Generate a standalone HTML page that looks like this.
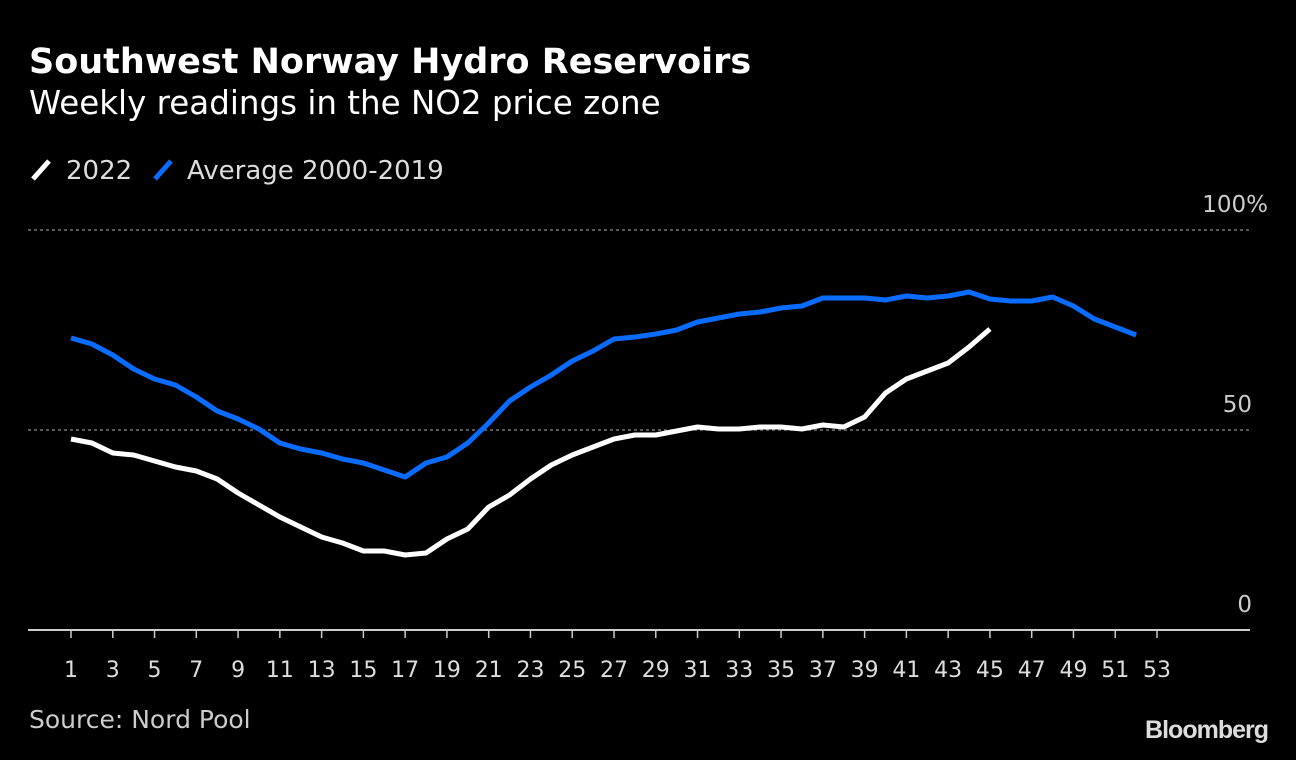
<!DOCTYPE html>
<html><head><meta charset="utf-8"><style>
html,body{margin:0;padding:0;background:#000;width:1296px;height:760px;overflow:hidden;font-family:"DejaVu Sans","Liberation Sans",sans-serif;color:#fff}
.t{position:absolute;left:29px;top:42px;font-size:35px;font-weight:bold}
.s{position:absolute;left:29px;top:84px;font-size:32.5px;color:#fff}
.src{position:absolute;left:29px;top:705px;font-size:25px;color:#ccc}
.bb{position:absolute;right:28px;top:716px;font-size:25px;font-weight:bold;color:#ddd;letter-spacing:-1px;font-family:"Liberation Sans",sans-serif}
svg{position:absolute;left:0;top:0;font-family:"DejaVu Sans","Liberation Sans",sans-serif}
</style></head><body>
<div class="t">Southwest Norway Hydro Reservoirs</div>
<div class="s">Weekly readings in the NO2 price zone</div>
<svg id="c" width="1296" height="760">
<g>
<line x1="33" y1="179" x2="49" y2="161" stroke="#fff" stroke-width="5"/>
<text x="66" y="179" font-size="26" fill="#ddd">2022</text>
<line x1="155" y1="179" x2="171" y2="161" stroke="#0a6cff" stroke-width="5"/>
<text x="187" y="179" font-size="26" fill="#ddd">Average 2000-2019</text>
</g>
</svg>
<div class="src">Source: Nord Pool</div>
<div class="bb">Bloomberg</div>
<script>
const weekTicks=[1,3,5,7,9,11,13,15,17,19,21,23,25,27,29,31,33,35,37,39,41,43,45,47,49,51,53];
const yTicks=[0,50,100];
const avgValues=[73,71.5,68.75,65.25,62.75,61.25,58.25,54.75,52.75,50.25,46.75,45.25,44.25,42.75,41.75,40,38.25,41.75,43.25,46.75,51.75,57.25,60.75,63.75,67.25,69.75,72.75,73.25,74,75,77,78,79,79.5,80.5,81,83,83,83,82.5,83.5,83,83.5,84.5,82.75,82.25,82.25,83.25,81,77.75,75.75,73.75];
const values2022=[47.75,46.75,44.25,43.75,42.25,40.75,39.75,37.75,34.25,31.25,28.25,25.75,23.25,21.75,19.75,19.75,18.75,19.25,22.75,25.25,30.75,33.75,37.75,41.25,43.75,45.75,47.75,48.75,48.75,49.75,50.75,50.25,50.25,50.75,50.75,50.25,51.25,50.75,53.25,59.25,62.75,64.75,66.75,70.75,75.25];
const NS="http://www.w3.org/2000/svg";
const svg=document.getElementById('c');
const x=w=>71+(w-1)*(1157-71)/52;
const y=v=>630-v*4;
function mk(t,a){const e=document.createElementNS(NS,t);for(const k in a)e.setAttribute(k,a[k]);svg.appendChild(e);return e;}
yTicks.forEach(v=>{
  if(v>0){const l=mk('line',{x1:28,x2:1250,y1:y(v),y2:y(v),stroke:'#777','stroke-width':1.5,'stroke-dasharray':'3,3'});
  
  }
  const t=mk('text',{x:v===100?1268:1252,y:y(v)-18,'font-size':23,fill:'#ccc','text-anchor':'end'});
  t.textContent=v===100?'100%':String(v);
  
  
});
const ax=mk('line',{x1:28,x2:1250,y1:630,y2:630,stroke:'#ccc','stroke-width':2});


weekTicks.forEach(w=>{
  const tk=mk('line',{x1:x(w),x2:x(w),y1:630,y2:638,stroke:'#ccc','stroke-width':1.5});
  
  
  const t=mk('text',{x:x(w),y:677,'font-size':22,fill:'#ddd','text-anchor':'middle'});
  t.textContent=w;
  
  
});
function line(vals,color,name){
  const p=mk('polyline',{points:vals.map((v,i)=>x(i+1)+','+y(v)).join(' '),fill:'none',stroke:color,'stroke-width':5,'stroke-linejoin':'round'});
  
  
}
line(avgValues,'#0a6cff','average-line');
line(values2022,'#ffffff','line-2022');
</script>
</body></html>
